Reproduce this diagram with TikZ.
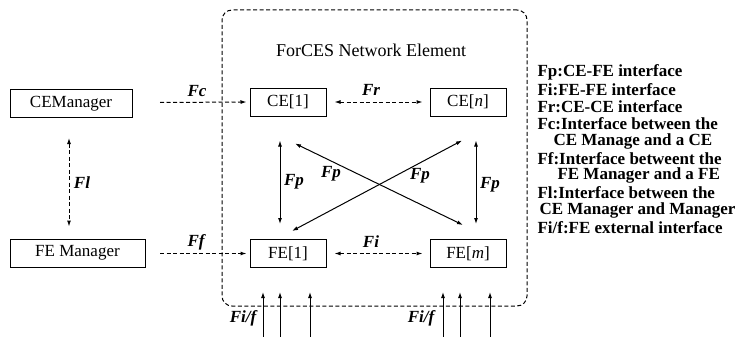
\documentclass[tikz,border=0pt]{standalone}
\usepackage{fontspec}
\setmainfont{Liberation Serif}
\usetikzlibrary{arrows.meta}
\begin{document}
\begin{tikzpicture}[x=1pt,y=-1pt,line width=1pt,
  box/.style={draw,minimum height=28pt,inner sep=0pt,font=\fontsize{17}{17}\selectfont},
  lbl/.style={font=\fontsize{17}{17}\selectfont\bfseries\itshape,inner sep=0pt},
  leg/.style={font=\fontsize{17}{17}\selectfont\bfseries,anchor=west,inner sep=0pt},
  dsh/.style={dash pattern=on 4pt off 2.5pt},
  tip/.style={-{Latex[length=6pt,width=4pt]}},
  dtip/.style={{Latex[length=6pt,width=4pt]}-{Latex[length=6pt,width=4pt]}}
]
\useasboundingbox (0,0) rectangle (747,337);

% network element container
\node[draw,dsh,rounded corners=10pt,minimum width=305pt,minimum height=296pt,inner sep=0pt] (ne) at (374.5,158) {};
\node[font=\fontsize{18}{18}\selectfont,inner sep=0pt] (title) at (371,50) {ForCES Network Element};

% boxes
\node[box,minimum width=122pt] (cem) at (71,103.5) {CEManager};
\node[box,minimum width=135pt] (fem) at (77.5,253) {FE Manager};
\node[box,minimum width=76pt] (ce1) at (288,102) {CE[1]};
\node[box,minimum width=76pt] (cen) at (468,102) {CE[\textit{n}]};
\node[box,minimum width=76pt] (fe1) at (288,253.5) {FE[1]};
\node[box,minimum width=76pt] (fem2) at (468,253.5) {FE[\textit{m}]};

% manager links
\coordinate (fcs) at (160,102.5);
\coordinate (ffs) at (160,253.5);
\draw[dsh,tip,shorten >=3pt] (fcs) -- (ce1.west);
\draw[dsh,tip,shorten >=3pt] (ffs) -- (fe1.west);
\draw[dsh,dtip,shorten <=20pt,shorten >=12pt] (cem.south -| 69,0) -- (fem.north -| 69,0);

% CE-CE and FE-FE
\draw[dsh,dtip,shorten <=8pt,shorten >=7pt] (ce1.east) -- (cen.west);
\draw[dsh,dtip,shorten <=8pt,shorten >=7pt] (fe1.east) -- (fem2.west);

% Fp links
\draw[dtip,shorten <=24pt,shorten >=15pt] ([xshift=-8pt]ce1.south) -- ([xshift=-8pt]fe1.north);
\draw[dtip,shorten <=24pt,shorten >=15pt] ([xshift=8pt]cen.south) -- ([xshift=8pt]fem2.north);
\draw[dtip] ([shift={(7,27)}]ce1.south) -- ([shift={(-5,-14)}]fem2.north);
\draw[dtip] ([shift={(-6,24)}]cen.south) -- ([shift={(4,-8)}]fe1.north);

% external interfaces
\foreach \i/\x in {1/263,2/280,3/310,4/443,5/460,6/490}{
  \coordinate (b\i) at (\x,340);
  \coordinate (t\i) at (\x,292);
  \draw[tip] (b\i) -- (t\i);
}

% labels
\node[lbl] (lfc) at (197,91) {Fc};
\node[lbl] (lff) at (196,242) {Ff};
\node[lbl] (lfl) at (82,183) {Fl};
\node[lbl] (lfr) at (371,90) {Fr};
\node[lbl] (lfi) at (371,242) {Fi};
\node[lbl] (lfp1) at (294,182) {Fp};
\node[lbl] (lfp2) at (331,174) {Fp};
\node[lbl] (lfp3) at (420,176) {Fp};
\node[lbl] (lfp4) at (490,185) {Fp};
\node[lbl] (lfif1) at (243,318) {Fi/f};
\node[lbl] (lfif2) at (421,318) {Fi/f};

% legend
\node[leg] (g1) at (537,72) {Fp:CE-FE interface};
\node[leg] (g2) at (537,89.3) {Fi:FE-FE interface};
\node[leg] (g3) at (537,106.6) {Fr:CE-CE interface};
\node[leg] (g4) at (537,123.9) {Fc:Interface between the};
\node[leg] (g5) at (553,141.2) {CE Manage and a CE};
\node[leg] (g6) at (537,158.5) {Ff:Interface betweent the};
\node[leg] (g7) at (557,175.8) {FE Manager and a FE};
\node[leg] (g8) at (537,193.1) {Fl:Interface between the};
\node[leg] (g9) at (539,210.4) {CE Manager and Manager};
\node[leg] (g10) at (537,227.7) {Fi/f:FE external interface};
\end{tikzpicture}
\end{document}
